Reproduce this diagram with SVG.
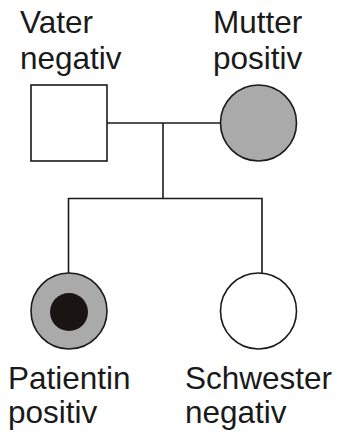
<svg xmlns="http://www.w3.org/2000/svg" width="339" height="434" viewBox="0 0 339 434">
  <style>
    .lbl { font-family: "Liberation Sans", Arial, sans-serif; font-size: 31.5px; fill: #1a1a1a; }
    .sym { stroke: #1a1a1a; stroke-width: 1.6; }
    .line { stroke: #1a1a1a; stroke-width: 1.6; fill: none; }
  </style>
  <rect width="339" height="434" fill="#ffffff"/>
  <g id="connectors">
    <path class="line" d="M107 123 H220"/>
    <path class="line" d="M163 123 V198.5"/>
    <path class="line" d="M68.5 273 V198.5 H262 V273"/>
  </g>
  <g id="vater">
    <rect class="sym" x="31" y="85" width="76" height="76" fill="#ffffff"/>
    <text class="lbl" x="20" y="33">Vater</text>
    <text class="lbl" x="20" y="69">negativ</text>
  </g>
  <g id="mutter">
    <circle class="sym" cx="258.5" cy="123" r="38" fill="#aaaaaa"/>
    <text class="lbl" x="213" y="33">Mutter</text>
    <text class="lbl" x="213" y="69">positiv</text>
  </g>
  <g id="patientin">
    <circle class="sym" cx="69" cy="311" r="38" fill="#aaaaaa"/>
    <circle cx="69" cy="312" r="19" fill="#1a1412"/>
    <text class="lbl" x="8" y="389">Patientin</text>
    <text class="lbl" x="8" y="423">positiv</text>
  </g>
  <g id="schwester">
    <circle class="sym" cx="258.5" cy="311" r="38" fill="#ffffff"/>
    <text class="lbl" x="185" y="389">Schwester</text>
    <text class="lbl" x="185" y="423">negativ</text>
  </g>
</svg>
